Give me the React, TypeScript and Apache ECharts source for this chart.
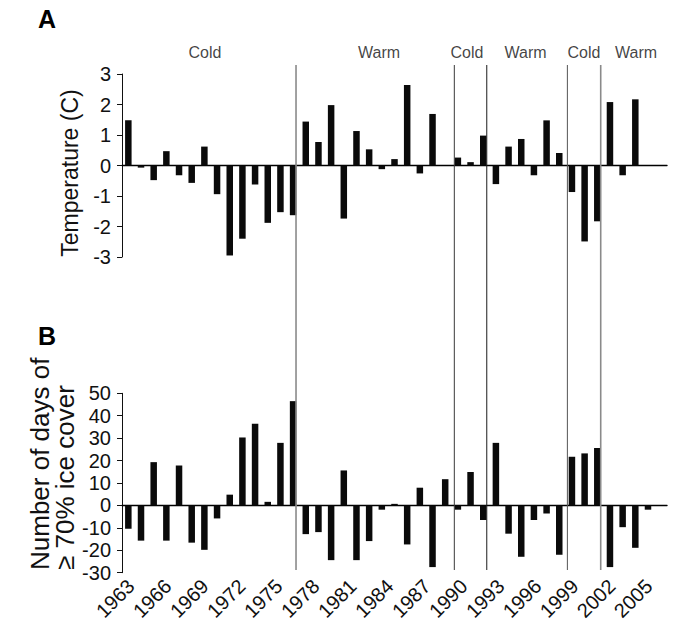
import React, { useEffect, useRef } from 'react';
import * as echarts from 'echarts';

// Years (category slots shared by both panels)
const years = [
  '1963', '1964', '1965', '1966', '1967', '1968', '1969', '1970', '1971', '1972',
  '1973', '1974', '1975', '1976', '1977', '1978', '1979', '1980', '1981', '1982',
  '1983', '1984', '1985', '1986', '1987', '1988', '1989', '1990', '1991', '1992',
  '1993', '1994', '1995', '1996', '1997', '1998', '1999', '2000', '2001', '2002',
  '2003', '2004', '2005',
];

// Panel A: temperature anomaly (C)
const temperature = [
  1.48, -0.07, -0.48, 0.47, -0.32, -0.57, 0.62, -0.94, -2.95, -2.4,
  -0.62, -1.88, -1.53, -1.63, 1.44, 0.77, 1.98, -1.74, 1.13, 0.53,
  -0.12, 0.21, 2.64, -0.26, 1.69, null, 0.26, 0.11, 0.98, -0.61,
  0.62, 0.87, -0.32, 1.48, 0.41, -0.87, -2.49, -1.83, 2.08, -0.32,
  2.17, null, null,
];

// Panel B: number of days of >= 70% ice cover (anomaly)
const iceDays = [
  -10.4, -15.7, 19.3, -15.7, 17.8, -16.6, -19.8, -5.8, 4.8, 30.3,
  36.4, 1.6, 27.9, 46.5, -12.8, -11.9, -24.4, 15.6, -24.4, -15.9,
  -1.9, 0.7, -17.4, 7.9, -27.5, 11.7, -1.9, 14.9, -6.5, 27.9,
  -12.6, -22.9, -6.5, -3.6, -22.0, 21.7, 23.2, 25.6, -27.5, -9.7,
  -18.9, -1.9, null,
];

// Regime annotations (positions in bar-slot units)
const regimeNames = ['Cold', 'Warm', 'Cold', 'Warm', 'Cold', 'Warm'];
const regimeLabelPos = [6.05, 19.78, 26.72, 31.34, 35.95, 40.06];
const regimeBreaks = [13.23, 25.72, 28.28, 34.64, 37.27];

const tempRange = { min: -3, max: 3, interval: 1 };
const iceRange = { min: -30, max: 50, interval: 10 };

const FONT = 'Liberation Sans, Arial, Helvetica, sans-serif';
const breakStyles = [
  { color: '#8a8a8a', width: 1.6 },
  { color: '#3a3a3a', width: 1 },
  { color: '#1a1a1a', width: 1 },
  { color: '#555555', width: 1 },
  { color: '#8a8a8a', width: 1.6 },
];

export default function App() {
  const ref = useRef<HTMLDivElement>(null);

  useEffect(() => {
    if (!ref.current) return;
    const chart = echarts.init(ref.current, undefined, { renderer: 'svg' });

    const yAxisCommon = {
      type: 'value' as const,
      axisLine: { show: true, lineStyle: { color: '#111', width: 1 } },
      axisTick: { show: true, inside: false, length: 5, lineStyle: { color: '#111' } },
      axisLabel: { color: '#111', fontSize: 20, fontFamily: FONT, margin: 11 },
      splitLine: { show: false },
    };
    const barXAxis = {
      type: 'category' as const,
      data: years,
      axisLine: { show: true, onZero: true, lineStyle: { color: '#000', width: 1.4 } },
      axisTick: { show: false },
      axisLabel: { show: false },
      splitLine: { show: false },
    };

    chart.setOption({
      animation: false,
      backgroundColor: '#fff',
      textStyle: { fontFamily: FONT },
      grid: [
        { left: 122, right: 8, top: 74, height: 183 },
        { left: 122, right: 8, top: 393.3, height: 179.4 },
        { left: 124.8, right: 20, top: 393.3, height: 179.4 },
        { left: 122, right: 8, top: 65, height: 505 },
      ],
      xAxis: [
        { ...barXAxis, gridIndex: 0 },
        { ...barXAxis, gridIndex: 1 },
        {
          type: 'category',
          gridIndex: 2,
          data: years,
          position: 'bottom',
          axisLine: { show: false, onZero: false },
          axisTick: { show: false },
          axisLabel: {
            show: true,
            interval: 2,
            rotate: 45,
            margin: 10,
            fontSize: 20,
            color: '#111',
            fontFamily: FONT,
          },
        },
        { type: 'value', gridIndex: 3, min: -0.5, max: 42.5, show: false },
      ],
      yAxis: [
        { ...yAxisCommon, gridIndex: 0, ...tempRange },
        { ...yAxisCommon, gridIndex: 1, ...iceRange },
        { type: 'value', gridIndex: 2, min: 0, max: 1, show: false },
        { type: 'value', gridIndex: 3, min: 0, max: 1, show: false },
      ],
      series: [
        {
          type: 'bar',
          xAxisIndex: 0,
          yAxisIndex: 0,
          data: temperature,
          barWidth: 6.5,
          itemStyle: { color: '#0a0a0a' },
        },
        {
          type: 'bar',
          xAxisIndex: 1,
          yAxisIndex: 1,
          data: iceDays,
          barWidth: 6.5,
          itemStyle: { color: '#0a0a0a' },
        },
        ...regimeBreaks.map((b, i) => ({
          type: 'line',
          xAxisIndex: 3,
          yAxisIndex: 3,
          data: [[b, 0], [b, 1]],
          symbol: 'none',
          lineStyle: breakStyles[i],
          silent: true,
        })),
        {
          type: 'scatter',
          xAxisIndex: 3,
          yAxisIndex: 3,
          symbolSize: 0,
          data: regimeNames.map((n, i) => ({ name: n, value: [regimeLabelPos[i], 1] })),
          label: {
            show: true,
            position: 'top',
            distance: 5,
            formatter: '{b}',
            fontSize: 16,
            color: '#111',
            fontFamily: FONT,
          },
          silent: true,
        },
      ],
      graphic: [
        {
          type: 'text',
          left: 38,
          top: 6,
          style: { text: 'A', font: `bold 25px ${FONT}`, fill: '#000' },
        },
        {
          type: 'text',
          left: 38,
          top: 323,
          style: { text: 'B', font: `bold 25px ${FONT}`, fill: '#000' },
        },
        {
          type: 'text',
          x: 70,
          y: 173,
          rotation: Math.PI / 2,
          style: {
            text: 'Temperature (C)',
            font: `23px ${FONT}`,
            fill: '#111',
            textAlign: 'center',
            textVerticalAlign: 'middle',
            align: 'center',
            verticalAlign: 'middle',
          },
        },
        {
          type: 'text',
          x: 52,
          y: 570,
          rotation: Math.PI / 2,
          style: {
            text: 'Number of days of\n≥ 70% ice cover',
            font: `26px ${FONT}`,
            lineHeight: 25,
            fill: '#111',
            textAlign: 'left',
            textVerticalAlign: 'middle',
            align: 'left',
            verticalAlign: 'middle',
          },
        },
      ],
    });

    return () => chart.dispose();
  }, []);

  return (
    <div
      ref={ref}
      style={{ position: 'fixed', left: 0, top: 0, width: 675, height: 630, background: '#fff' }}
    />
  );
}
